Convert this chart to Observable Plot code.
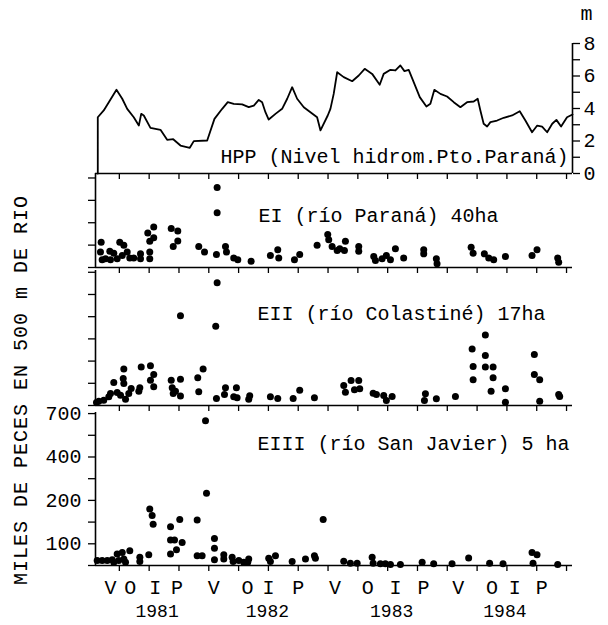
<!DOCTYPE html>
<html><head><meta charset="utf-8">
<script src="https://cdn.jsdelivr.net/npm/d3@7"></script>
<script src="https://cdn.jsdelivr.net/npm/@observablehq/plot@0.6"></script>
<style>
body{margin:0;background:#fff}
#chart{position:relative;width:608px;height:625px;font-family:"Courier New","Liberation Mono",monospace;color:#000}
#chart .panel{position:absolute;left:0}
#ylab{position:absolute;left:21px;top:390px;transform:translate(-50%,-50%) rotate(-90deg);white-space:nowrap;font-size:20px;letter-spacing:1px}
</style></head><body>
<div id="chart"><div id="ylab">MILES DE PECES EN 500 m DE RIO</div></div>
<script>
// x unit: months since the start of the record (approx. Dec 1980)
const hppT = [0.23,0.23,0.83,1.34,2.11,2.69,3.19,3.85,4.36,4.6,4.86,5.53,6.54,7.21,7.82,8.55,9.49,9.89,11.24,11.97,12.75,13.31,13.91,14.76,15.42,15.93,16.43,16.77,17.1,17.43,18.11,18.78,19.29,19.79,20.29,20.96,21.63,22.3,22.64,23.37,23.64,23.97,24.32,24.98,25.83,26.49,27.09,27.84,28.6,29.0,29.68,30.18,30.68,31.09,31.52,32.02,32.63,33.3,33.7,34.1,34.71,35.38,36.05,36.72,37.39,38.06,38.46,38.73,39.06,39.41,39.74,40.41,41.08,41.92,42.69,43.26,43.93,44.45,44.94,45.45,45.96,46.38,46.85,47.45,48.0];
const hppLevel = [0,3.46,3.88,4.39,5.15,4.6,3.98,3.46,2.95,3.67,3.57,2.81,2.69,2.07,2.11,1.72,1.58,1.99,2.03,3.36,3.98,4.39,4.29,4.25,4.08,4.18,4.53,4.39,3.77,3.32,3.67,3.98,4.6,5.31,4.6,4.08,3.77,3.46,2.65,3.57,3.98,4.9,6.23,5.93,5.68,6.03,6.44,6.13,5.46,6.13,6.38,6.34,6.65,6.3,6.38,5.62,4.7,4.12,4.29,5.15,4.9,4.74,4.39,4.08,4.39,4.43,4.6,3.88,3.06,2.89,3.16,3.26,3.43,3.57,3.83,3.26,2.54,2.95,2.89,2.54,3.06,3.3,2.89,3.46,3.63];

const eiT = [12.24,12.24,5.86,5.26,5.86,5.46,7.62,8.28,8.28,7.82,0.57,0.5,0.67,1.44,1.84,2.44,2.85,2.69,2.18,3.19,3.45,3.85,4.53,4.53,5.46,5.46,1.01,1.51,10.39,10.97,12.17,13.08,13.18,13.91,14.32,15.66,17.6,18.34,18.44,20.02,20.55,22.3,23.37,23.47,23.81,24.58,25.15,25.05,24.32,26.49,26.49,28.0,28.17,28.84,29.27,29.68,30.18,31.01,33.03,33.03,34.3,34.37,37.8,38.0,39.13,39.57,40.07,41.25,43.93,44.43,46.51,46.61];
const eiV = [3.57,2.45,1.81,1.54,1.33,1.17,1.74,1.63,1.18,0.94,1.13,0.69,0.35,0.73,0.64,1.13,0.99,0.54,0.39,0.69,0.43,0.43,0.61,0.39,0.69,0.39,0.39,0.35,0.94,0.69,0.58,0.94,0.69,0.43,0.35,0.28,0.54,0.79,0.43,0.35,0.58,0.99,1.48,1.24,0.94,0.84,1.17,0.76,0.76,0.94,0.73,0.49,0.31,0.39,0.54,0.35,0.84,0.43,0.79,0.61,0.39,0.17,0.91,0.64,0.61,0.43,0.35,0.49,0.54,0.79,0.43,0.24];

const eiiT = [12.24,12.1,8.55,2.85,2.79,1.84,2.85,4.6,5.53,5.86,5.53,5.86,4.46,4.36,3.59,3.35,2.52,2.18,1.51,1.34,3.02,0.83,0.33,0.1,7.62,8.55,7.72,8.05,8.55,7.82,10.83,10.29,10.39,12.17,13.08,12.98,14.18,13.91,14.25,15.52,15.42,17.6,18.34,19.89,20.55,22.03,24.98,25.15,25.72,26.06,26.49,26.59,27.94,28.27,29.0,29.27,29.85,33.2,33.1,34.3,36.22,37.9,38.0,38.0,39.23,39.23,39.23,40.01,40.01,39.81,41.25,41.25,44.16,44.16,44.7,44.7,46.61,46.71];
const eiiV = [5.53,3.57,4.04,1.64,1.22,1.04,0.99,1.73,1.79,1.4,1.14,0.84,0.8,0.64,0.77,0.54,0.46,0.59,0.54,0.39,0.28,0.24,0.19,0.14,1.14,1.18,0.8,0.64,0.43,0.54,1.64,1.25,0.62,0.32,0.8,0.5,0.8,0.39,0.35,0.44,0.28,0.39,0.32,0.32,0.69,0.35,0.9,0.6,1.13,0.71,1.13,0.75,0.55,0.5,0.45,0.23,0.41,0.53,0.23,0.3,0.41,2.55,1.76,1.16,3.18,2.25,1.73,1.73,1.25,0.64,0.75,0.15,2.3,1.4,1.16,0.19,0.5,0.41];

// EIII values in thousands of fish
const eiiiT = [11.07,11.17,5.46,5.7,5.8,7.55,8.48,10.23,22.91,7.55,7.95,8.72,8.15,7.55,11.97,11.97,11.97,10.23,10.73,12.91,12.91,13.75,13.85,14.42,14.92,15.42,15.32,5.36,4.46,4.46,3.45,2.69,2.18,2.85,2.34,1.68,1.18,0.67,0.17,1.84,3.02,17.43,17.6,18.11,19.79,21.13,22.03,22.13,24.98,25.65,26.33,27.84,27.94,28.67,29.17,29.68,30.68,32.87,34.03,35.88,37.55,39.66,41.01,43.93,44.43,44.03,46.51];
const eiiiV = [650,233,180,165,145,139,156,155,156,109,109,103,73,53,112,79,27,45,45,49,30,38,18,23,15,30,15,49,38,18,68,60,53,30,23,27,23,23,23,15,15,33,18,45,18,30,45,33,20,10,10,38,10,8,8,5,5,15,8,8,35,10,8,60,50,10,5];

const seasonLabels = ["V","O","I","P","V","O","I","P","V","O","I","P","V","O","I","P"];
const seasonPos = [1.5,3.5,6.0,8.2,11.9,15.3,17.4,20.4,24.1,27.4,30.2,33.0,36.5,39.9,42.2,44.9];
const yearLabels = ["1981","1982","1983","1984"];
const yearPos = [6.2,17.3,29.8,41.2];
const hppTicks = [0,1,2,3,4,5,6,7,8];
// EIII axis: uneven graduation of the original; values at each tick position
const eiiiBreaks = [0,100,150,200,300,400,550,700];
const eiiiTickLabels = ["","100","","200","","400","","700"];

const pts = (T, V) => T.map((t, i) => ({t, v: V[i]}));
const hpp = pts(hppT, hppLevel);
// piecewise mapping of the uneven EIII axis onto tick positions
const eiiiPos = d3.scaleLinear().domain(eiiiBreaks).range(eiiiBreaks.map((d, i) => i));

const FONT = '"Courier New","Liberation Mono",monospace';
const chart = document.getElementById("chart");
const xTicks = d3.range(2.4, 48, 3);
const common = {
  width: 608, marginLeft: 95, marginRight: 36,
  x: {domain: [0, 48], label: null},
  style: {background: "transparent", overflow: "visible", fontFamily: FONT, fontSize: "20px", color: "black"}
};
function place(svg, top) {
  const d = document.createElement("div");
  d.className = "panel"; d.style.top = top + "px";
  d.appendChild(svg); chart.appendChild(d);
}
const xAxis = () => Plot.axisX({ticks: xTicks, tickFormat: () => "", tickSize: 6, label: null, strokeWidth: 1.3});
const leftAxis = (ticks, fmt) => Plot.axisY({anchor: "left", ticks, tickFormat: fmt, tickSize: 7, tickPadding: 7, label: null, strokeWidth: 1.3});
const panelText = (s, dx, dy) => Plot.text([s], {frameAnchor: "top-left", textAnchor: "start", lineAnchor: "middle", dx, dy, fontSize: 20, letterSpacing: 0.5, fill: "black"});
const dots = (data, y = "v") => Plot.dot(data, {x: "t", y, r: 3.5, fill: "black", stroke: null});

// HPP panel
place(Plot.plot({
  ...common, height: 180, marginTop: 43, marginBottom: 7,
  y: {domain: [0, 8], label: null},
  marks: [
    Plot.ruleY([0], {strokeWidth: 1.6}),
    Plot.ruleX([48], {strokeWidth: 1.6}),
    xAxis(),
    Plot.axisY({anchor: "right", ticks: hppTicks, tickFormat: d => d % 2 === 0 ? String(d) : "", tickSize: 7, tickPadding: 4, label: null, strokeWidth: 1.3}),
    Plot.line(hpp, {x: "t", y: "v", stroke: "black", strokeWidth: 1.8}),
    Plot.text(["HPP (Nivel hidrom.Pto.Paraná)"], {frameAnchor: "bottom-right", textAnchor: "end", lineAnchor: "middle", dx: -4, dy: -17, fontSize: 20, letterSpacing: 0.75, fill: "black"}),
    Plot.text(["m"], {frameAnchor: "top-right", textAnchor: "middle", lineAnchor: "middle", dx: 14, dy: -30, fontSize: 20, fill: "black"})
  ]
}), 0);

// EI panel
place(Plot.plot({
  ...common, height: 100, marginTop: 0, marginBottom: 6,
  y: {domain: [0, 4.2], label: null},
  marks: [
    Plot.ruleY([0], {strokeWidth: 1.6}),
    Plot.ruleX([0], {strokeWidth: 1.6}),
    xAxis(),
    leftAxis([0,1,2,3,4], () => ""),
    dots(pts(eiT, eiV)),
    panelText("EI (río Paraná) 40ha", 163, 42)
  ]
}), 173);

// EII panel
place(Plot.plot({
  ...common, height: 141, marginTop: 0, marginBottom: 6,
  y: {domain: [0, 6.08], label: null},
  marks: [
    Plot.ruleY([0], {strokeWidth: 1.6}),
    Plot.ruleX([0], {strokeWidth: 1.6}),
    xAxis(),
    leftAxis([0,1,2,3,4,5,6], () => ""),
    dots(pts(eiiT, eiiV)),
    panelText("EII (río Colastiné) 17ha", 162, 43)
  ]
}), 270);

// EIII panel
place(Plot.plot({
  ...common, height: 212, marginTop: 0, marginBottom: 59,
  y: {domain: [0, 7.05], label: null},
  marks: [
    Plot.ruleY([0], {strokeWidth: 1.6}),
    Plot.ruleX([0], {strokeWidth: 1.6}),
    xAxis(),
    leftAxis(eiiiBreaks.map((d, i) => i), i => eiiiTickLabels[i]),
    dots(pts(eiiiT, eiiiV), d => eiiiPos(d.v)),
    panelText("EIII (río San Javier) 5 ha", 162, 31),
    Plot.text(seasonLabels, {x: (d, i) => seasonPos[i], text: d => d, frameAnchor: "bottom", lineAnchor: "middle", dy: 22, fontSize: 20, fill: "black"}),
    Plot.text(yearLabels, {x: (d, i) => yearPos[i], text: d => d, frameAnchor: "bottom", lineAnchor: "middle", dy: 46, fontSize: 18, letterSpacing: 0.6, fill: "black"})
  ]
}), 412);
</script>
</body></html>
